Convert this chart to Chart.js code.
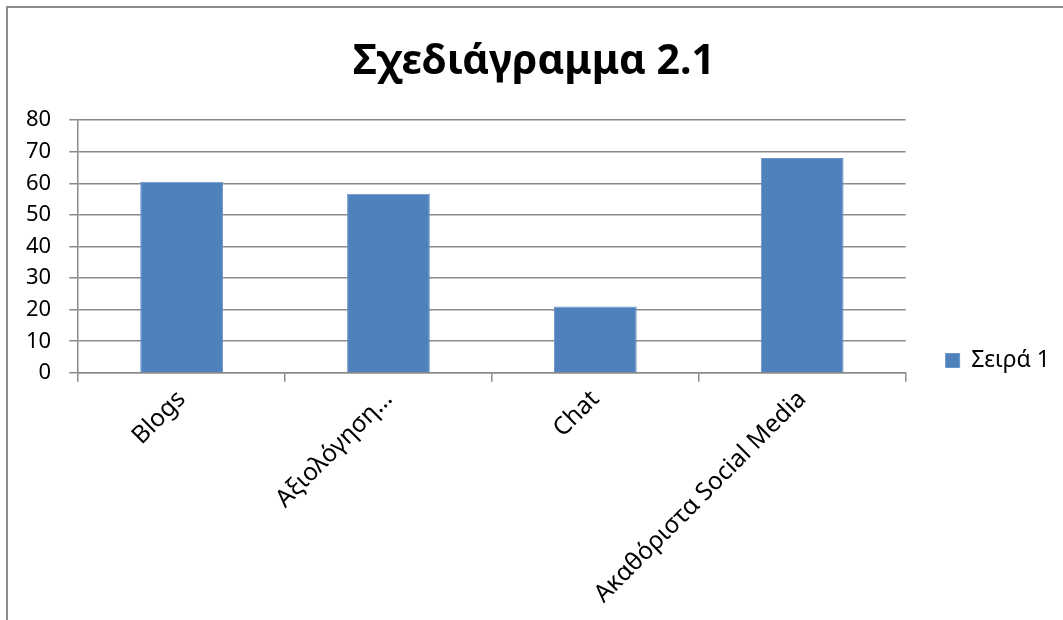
<!DOCTYPE html>
<html>
<head>
<meta charset="utf-8">
<script src="https://cdn.jsdelivr.net/npm/chart.js@4"></script>
<style>
  html, body { margin: 0; padding: 0; background: #fff; overflow: hidden; }
  #frame { position: absolute; left: 6px; top: 6px; width: 1200px; height: 800px; border: 2px solid #8c8c8c; }
  #wrap { position: absolute; left: 0; top: 0; width: 1063px; height: 620px; }
</style>
</head>
<body>
<div id="frame"></div>
<div id="wrap"><canvas id="myChart" width="1063" height="620"></canvas></div>
<script>
// chart data
const categories = ['Blogs', 'Αξιολόγηση…', 'Chat', 'Ακαθόριστα Social Media'];
const values = [60.5, 56.7, 21, 68];
const seriesName = 'Σειρά 1';
const yMin = 0;
const yMax = 80;
const yStep = 10;

const font = "'Noto Sans', 'DejaVu Sans', sans-serif";
const gray = '#8a8a8a';

const ctx = document.getElementById('myChart').getContext('2d');
new Chart(ctx, {
  type: 'bar',
  data: {
    labels: categories,
    datasets: [{
      label: seriesName,
      data: values,
      backgroundColor: '#4f81bd',
      borderColor: '#6a95c9',
      borderWidth: 1,
      categoryPercentage: 1,
      barPercentage: 0.4,
    }]
  },
  options: {
    responsive: false,
    animation: false,
    layout: { padding: { left: 8, right: 3, top: 8, bottom: 8 } },
    plugins: {
      title: {
        display: true,
        text: 'Σχεδιάγραμμα 2.1',
        color: '#000',
        font: { family: font, size: 41, weight: 'bold', lineHeight: 1.2 },
        padding: { top: 30, bottom: 33 }
      },
      legend: {
        position: 'right',
        align: 'center',
        // empty legend title only pushes the entry down
        title: { display: true, text: '', padding: { top: 100, bottom: 0 }, font: { size: 1, lineHeight: 1 } },
        labels: {
          color: '#000',
          boxWidth: 14,
          boxHeight: 14,
          padding: 40,
          font: { family: font, size: 23 }
        }
      },
      tooltip: { enabled: false }
    },
    scales: {
      x: {
        offset: true,
        grid: {
          display: true,
          drawOnChartArea: false,
          offset: true,
          tickLength: 9,
          color: gray,
          lineWidth: 1.5
        },
        border: { color: gray, width: 1.5 },
        ticks: {
          color: '#000',
          maxRotation: 45,
          minRotation: 45,
          autoSkip: false,
          font: { family: font, size: 24.5 }
        }
      },
      y: {
        min: yMin,
        max: yMax,
        ticks: {
          stepSize: yStep,
          color: '#000',
          padding: 18,
          font: { family: font, size: 22 }
        },
        grid: { color: gray, lineWidth: 1.5, tickLength: 9 },
        border: { color: gray, width: 1.5 }
      }
    }
  }
});
</script>
</body>
</html>
